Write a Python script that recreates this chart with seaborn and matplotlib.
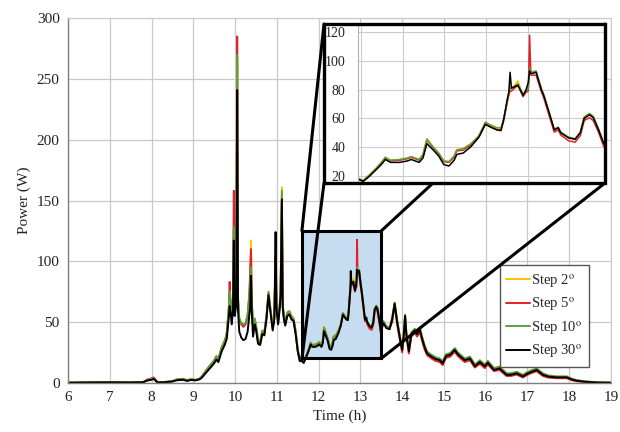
import pandas as pd
import matplotlib.pyplot as plt
import seaborn as sns
from matplotlib.patches import Rectangle, ConnectionPatch

sns.set_style("whitegrid")
plt.rcParams["font.family"] = ["Liberation Serif", "DejaVu Serif"]
plt.rcParams["mathtext.fontset"] = "stix"

# -----------------------------
# Data
# -----------------------------
hours = [
    6.0, 6.5, 7.0, 7.5, 7.8, 7.9, 8.0, 8.05, 8.1, 8.15, 8.3, 8.5, 8.6, 8.75, 8.85, 8.95, 9.05, 9.15,
    9.2, 9.3, 9.4, 9.5, 9.55, 9.6, 9.68, 9.75, 9.8, 9.85, 9.87, 9.89, 9.92, 9.95, 9.97, 9.99,
    10.03, 10.05, 10.07, 10.1, 10.15, 10.2, 10.25, 10.3, 10.34, 10.36, 10.38, 10.4, 10.43, 10.47,
    10.5, 10.55, 10.6, 10.65, 10.7, 10.75, 10.8, 10.84, 10.9, 10.94, 10.97, 10.99,
    11.03, 11.07, 11.09, 11.12, 11.14, 11.17, 11.2, 11.25, 11.3, 11.35, 11.4, 11.45, 11.5, 11.55,
    11.6, 11.64, 11.69, 11.74, 11.78, 11.81, 11.85, 11.92, 11.98, 12.01, 12.07, 12.1, 12.13, 12.18,
    12.22, 12.26, 12.3, 12.34, 12.36, 12.41, 12.47, 12.53, 12.58, 12.62, 12.67, 12.7, 12.72, 12.75,
    12.76, 12.77, 12.78, 12.83, 12.87, 12.89, 12.91, 12.92, 12.93, 12.97, 13.01, 13.03, 13.07, 13.11,
    13.14, 13.16, 13.22, 13.27, 13.31, 13.34, 13.38, 13.41, 13.45, 13.49,
    13.55, 13.62, 13.7, 13.76, 13.82, 13.88, 13.95, 14.0, 14.04, 14.07, 14.1, 14.16, 14.22, 14.3,
    14.36, 14.42, 14.48, 14.54, 14.6, 14.7, 14.8, 14.9, 14.97,
    15.05, 15.15, 15.26, 15.32, 15.38, 15.5, 15.62, 15.68, 15.74, 15.86, 15.98, 16.05, 16.2, 16.33,
    16.5, 16.6, 16.74, 16.89, 17.0, 17.1, 17.22, 17.37, 17.5, 17.7, 17.94, 18.08, 18.2, 18.4, 18.7, 19.0,
]

step2 = [
    0, 0.2, 0.3, 0.2, 0.5, 2.2, 3.0, 3.8, 2.0, 0.3, 0.5, 1.3, 2.6, 3.0, 2.0, 2.8, 2.3, 3.3,
    5, 9.5, 14, 18, 21.5, 19, 29, 34, 40, 60, 72, 65, 55, 68, 125, 64,
    70, 265, 68, 52, 48, 47, 48, 54, 68, 78, 117, 66, 45, 52, 47, 34, 33, 42, 41, 54, 74, 62, 46, 55, 100, 64,
    50, 64, 75, 161, 64, 54, 49, 57, 58, 54, 52, 42, 27, 18.5,
    18.2, 16.8, 21, 25.5, 29.5, 33, 31, 31.5, 32.5, 33.5, 31.5, 35, 46, 40, 36, 30.5, 30, 34, 38.5, 39,
    42.5, 48, 57, 55, 53, 53, 59, 73, 77, 80, 80, 86, 76, 79, 80, 100, 92, 92.5, 80, 75.5,
    63.5, 51.5, 53.5, 50, 46.5, 45.5, 50, 61, 63, 61, 52.5, 42.5,
    50, 46, 45, 53, 66, 51, 37, 28, 41, 56, 41, 27, 41, 44, 41, 45, 37, 30, 25, 22.5, 20.5, 19.5, 17,
    23, 24, 28, 25, 23, 19.5, 21, 18, 14.5, 18, 14.5, 17.5, 11.5, 12.8, 7.3, 7.3, 8.5, 6, 8.3, 9.8,
    11.3, 7.2, 5.6, 4.9, 4.9, 2.9, 1.9, 1.0, 0.2, 0,
]

step5 = [
    0, 0.2, 0.3, 0.2, 0.6, 2.6, 3.6, 4.3, 2.4, 0.3, 0.4, 1.1, 2.3, 2.7, 1.7, 2.5, 2.1, 3.1,
    5, 9.5, 14, 18, 21, 19, 29, 34, 40, 61, 83, 66, 55, 70, 158, 64,
    70, 285, 69, 52, 48, 46, 48, 55, 72, 90, 110, 66, 45, 51, 46, 33, 32, 41, 40, 53, 73, 61, 45, 54, 105, 63,
    49, 63, 74, 150, 63, 53, 48, 56, 57, 53, 51, 41, 26, 17.5,
    18, 16.5, 20.5, 25, 29, 32.5, 30.5, 31, 32, 33, 31, 34.5, 45, 39.5, 35.5, 30, 29.5, 33, 37.5, 38,
    41.5, 47, 56, 54, 52, 52, 58, 72, 76, 79, 79, 83, 75, 78, 79, 117.7, 90, 90, 78.5, 74,
    62, 50.5, 52, 48.5, 44.5, 43.5, 48, 58.5, 60.5, 58.5, 50.5, 40.5,
    50.5, 46.5, 45, 50, 64, 48, 34, 25, 38, 53, 38, 24, 38, 41, 38, 42, 34, 27, 22.5, 20, 18, 17, 14.5,
    20.5, 21.5, 25.5, 22.5, 20.5, 17, 18.5, 15.5, 12.5, 15.5, 12, 15, 9.5, 10.5, 5.5, 5.5, 6.7, 4.3, 6.5, 8,
    9.5, 5.5, 4.2, 3.7, 3.7, 1.9, 1.1, 0.5, 0.1, 0,
]

step10 = [
    0, 0.2, 0.3, 0.2, 0.5, 2.2, 3.0, 3.8, 2.0, 0.3, 0.6, 1.4, 2.8, 3.3, 2.2, 3.0, 2.4, 3.4,
    5, 10, 14.5, 18.5, 22, 19.5, 29.5, 34.5, 40, 62, 75, 66, 56, 70, 128, 65,
    71, 270, 70, 53, 49, 48, 49, 56, 72, 84, 95, 67, 46, 53, 48, 35, 34, 43, 42, 55, 75, 63, 47, 56, 100, 65,
    51, 65, 76, 158, 65, 55, 50, 58, 59, 55, 53, 43, 28, 19,
    18.3, 16.9, 21, 25.5, 29.5, 33, 31, 31.5, 32.5, 33.5, 31.5, 35, 45.5, 40, 36, 30.5, 30, 34, 38, 39,
    42.5, 48, 57.5, 55.5, 53.5, 53.5, 59.5, 73.5, 77.5, 81, 81, 84, 76.5, 79.5, 80.5, 95, 92, 93, 81, 76.5,
    64.5, 52.5, 54, 50.5, 47, 46, 50.5, 61, 63.5, 61.5, 53, 43,
    50.5, 46.5, 45.5, 53.5, 66, 51.5, 37.5, 28.5, 41.5, 56, 41.5, 27.5, 41.5, 44.5, 41.5, 45.5, 37.5, 30.5,
    25.5, 23, 21, 20, 17.5,
    23.5, 24.5, 28.5, 25.5, 23.5, 20, 21.5, 18.5, 15, 18.5, 15, 18, 12, 13.3, 7.8, 7.8, 9, 6.5, 8.8, 10.3,
    11.8, 7.7, 6, 5.2, 5.2, 3.1, 2.0, 1.1, 0.2, 0,
]

step30 = [
    0, 0.2, 0.3, 0.2, 0.4, 1.8, 2.4, 3.2, 1.4, 0.2, 0.4, 1.0, 2.0, 2.4, 1.5, 2.3, 1.9, 2.8,
    4, 8, 12, 16, 19, 17, 26, 31, 36, 54, 63, 58, 48, 60, 117, 55,
    64, 241, 60, 42, 37, 35, 36, 42, 55, 62, 88, 58, 38, 48, 44, 32, 31, 40, 39, 52, 72, 60, 43, 52, 124, 62,
    48, 62, 72, 151, 62, 52, 47, 55, 56, 52, 51, 40, 26, 18,
    18, 16.3, 20, 24.5, 28, 31.5, 29.5, 29.5, 30.5, 31.5, 29.5, 32.5, 42.5, 38, 34, 28, 27, 31, 35, 36,
    40.5, 47, 56, 54, 52, 51.5, 59, 74, 78, 92, 81, 83, 76, 79, 85, 93, 91, 92, 80, 75.5,
    64, 52, 53.5, 50, 46.5, 45.5, 50, 60, 62.5, 60.5, 52, 42.5,
    49, 45, 44, 52, 65, 50, 36, 27, 40, 55, 40, 26, 40, 43, 40, 44, 36, 29, 24, 21.5, 19.5, 18.5, 16,
    22, 23, 27, 24, 22, 18.5, 20, 17, 13.5, 17, 13.5, 16.5, 10.5, 11.8, 6.5, 6.5, 7.7, 5.2, 7.5, 9,
    10.5, 6.5, 5, 4.4, 4.4, 2.4, 1.5, 0.7, 0.1, 0,
]

labels = ["Step 2$^{\\rm o}$", "Step 5$^{\\rm o}$", "Step 10$^{\\rm o}$", "Step 30$^{\\rm o}$"]
colors = ["#FFC000", "#E3202A", "#5F9E3C", "#000000"]

df = pd.DataFrame({"Time": hours, labels[0]: step2, labels[1]: step5,
                   labels[2]: step10, labels[3]: step30})
long = df.melt(id_vars="Time", var_name="Series", value_name="Power")

# -----------------------------
# Main chart
# -----------------------------
fig = plt.figure(figsize=(6.2, 4.32), dpi=100)
ax = fig.add_axes([0.1097, 0.1141, 0.8758, 0.8435])

sns.lineplot(data=long, x="Time", y="Power", hue="Series", hue_order=labels,
             palette=colors, lw=1.4, estimator=None, sort=False, ax=ax)

ax.set_xlim(6, 19)
ax.set_ylim(0, 300)
ax.set_xticks(range(6, 20))
ax.set_yticks(range(0, 301, 50))
ax.grid(color="#c8c8c8", lw=0.9)
for side in ["top", "right"]:
    ax.spines[side].set_color("#c8c8c8")
for side in ["left", "bottom"]:
    ax.spines[side].set_color("#7f7f7f")
    ax.spines[side].set_linewidth(1.0)
ax.tick_params(length=3, width=0.8, color="#7f7f7f", labelsize=11, pad=3, labelcolor="#222222")
ax.set_xlabel("Time (h)", fontsize=11, color="#222222")
ax.set_ylabel("Power (W)", fontsize=11, color="#222222")

# zoom box
ax.add_patch(Rectangle((11.6, 20), 1.9, 105, facecolor="#c6dcf0", edgecolor="none", zorder=1.5))
ax.add_patch(Rectangle((11.6, 20), 1.9, 105, fill=False, edgecolor="black", lw=2.2, zorder=3))

leg = ax.legend(loc="lower right", bbox_to_anchor=(0.9595, 0.044), borderaxespad=0,
                fontsize=10.5, frameon=True, fancybox=False, framealpha=1, edgecolor="#555555",
                handlelength=1.6, handletextpad=0.1, labelspacing=0.4, borderpad=0.45)
leg.get_frame().set_linewidth(1.0)

# -----------------------------
# Inset
# -----------------------------
frame = [0.5226, 0.5764, 0.4532, 0.368]
bg = fig.add_axes(frame, zorder=1)
bg.set_xticks([])
bg.set_yticks([])
bg.set_facecolor("white")
for s in bg.spines.values():
    s.set_visible(False)

inax = fig.add_axes([0.5774, 0.5764, 0.3984, 0.368], zorder=2)
inax.set_facecolor("none")
sns.lineplot(data=long, x="Time", y="Power", hue="Series", hue_order=labels,
             palette=colors, lw=1.1, estimator=None, sort=False, legend=False, ax=inax)
inax.set_xlim(11.6, 13.5)
inax.set_ylim(15.2, 125.5)
inax.set_xticks([11.623, 11.946, 12.261, 12.585, 12.908, 13.223])
inax.set_xticklabels([])
inax.set_yticks(range(20, 121, 20))
inax.grid(color="#cccccc", lw=0.8)
inax.set_xlabel("")
inax.set_ylabel("")
for side in ["top", "right", "bottom"]:
    inax.spines[side].set_visible(False)
inax.spines["left"].set_color("#b0b0b0")
inax.spines["left"].set_linewidth(0.8)
inax.tick_params(axis="y", length=3, color="#b0b0b0", labelsize=10, pad=6, labelcolor="#222222")
inax.tick_params(axis="x", length=0)

fig.add_artist(Rectangle((frame[0], frame[1]), frame[2], frame[3], transform=fig.transFigure,
                         fill=False, edgecolor="black", lw=2.4, zorder=3))

# connector lines from box corners to the inset frame corners
corners = [
    ((frame[0], frame[1] + frame[3]), (11.6, 125)),
    ((frame[0], frame[1]), (11.6, 20)),
    ((frame[0] + frame[2], frame[1] + frame[3]), (13.5, 125)),
    ((frame[0] + frame[2], frame[1]), (13.5, 20)),
]
for fxy, dxy in corners:
    con = ConnectionPatch(xyA=fxy, coordsA=fig.transFigure, xyB=dxy, coordsB=ax.transData,
                          color="black", lw=2.2)
    con.set_zorder(0.5)
    fig.add_artist(con)

fig.savefig("out.png", dpi=100)
plt.close()
